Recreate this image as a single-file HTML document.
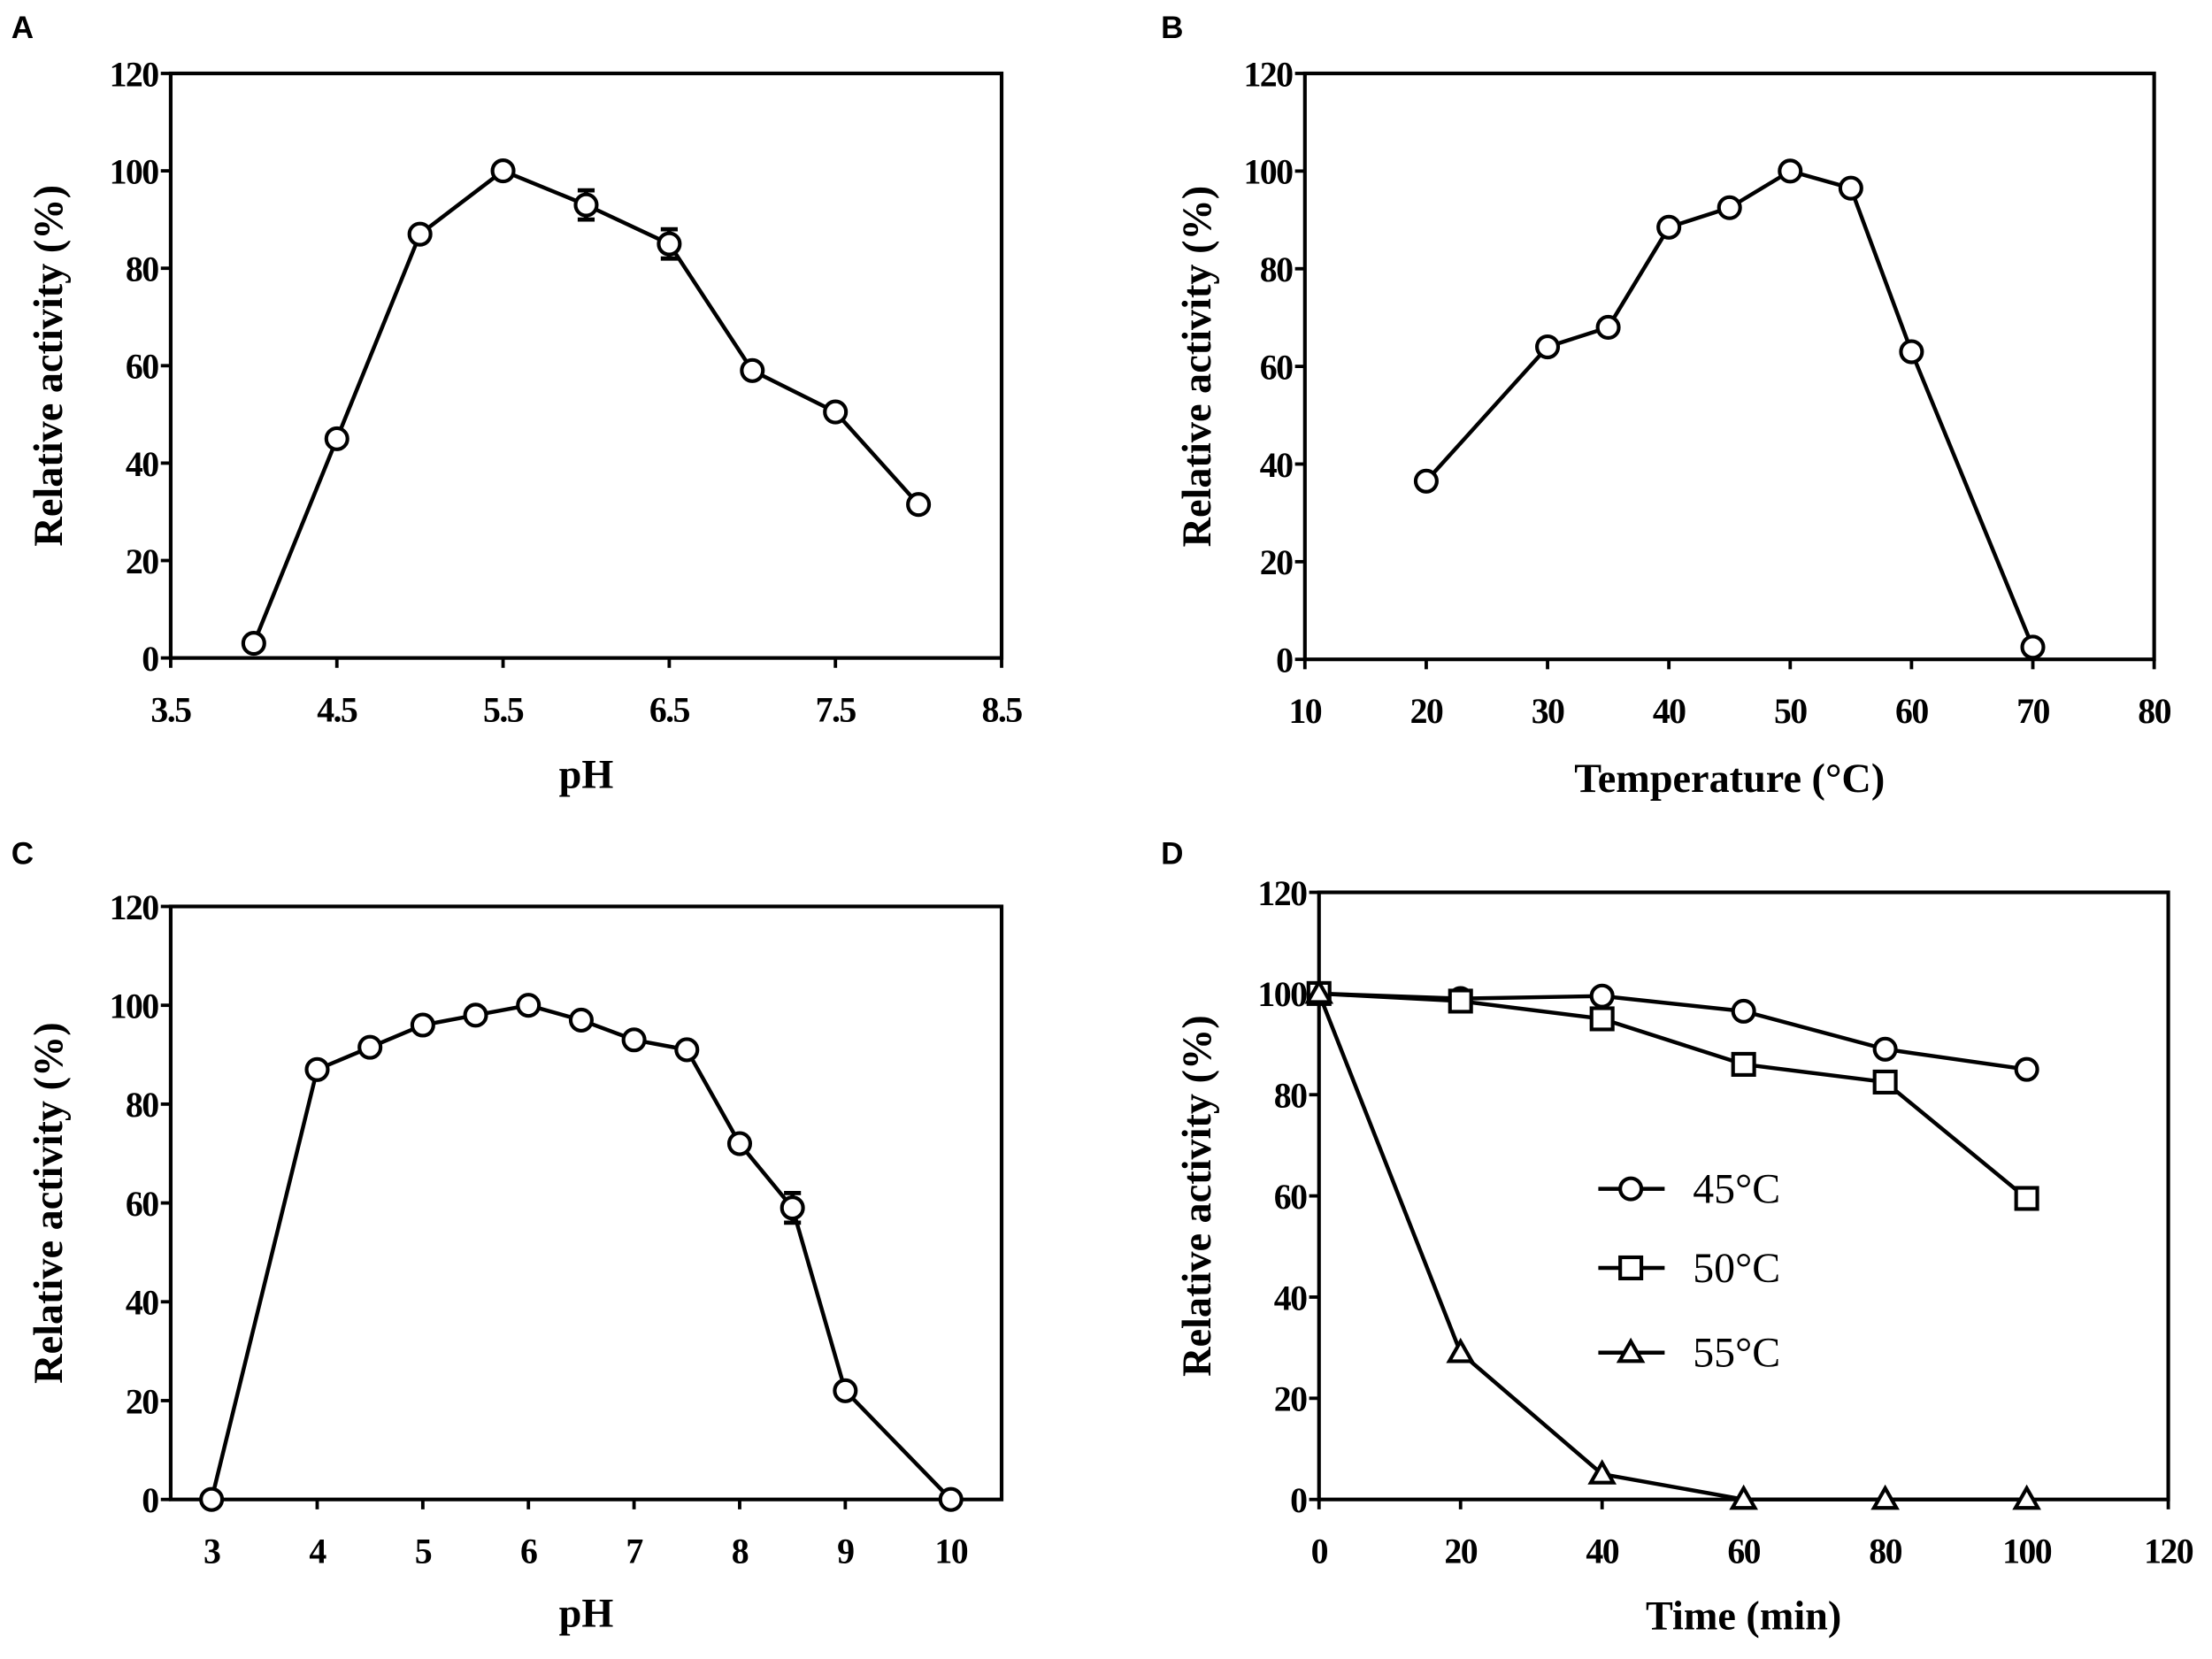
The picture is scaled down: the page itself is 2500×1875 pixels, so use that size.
<!DOCTYPE html>
<html><head><meta charset="utf-8"><style>html,body{margin:0;padding:0;background:#fff}svg{display:block}</style></head>
<body>
<svg id="fig" width="2500" height="1875" viewBox="0 0 1568 1175" preserveAspectRatio="none" xmlns="http://www.w3.org/2000/svg"></svg>
<script>
// Panel A: pH optimum
const aX = [4, 4.5, 5, 5.5, 6, 6.5, 7, 7.5, 8];
const aY = [3, 45, 87, 100, 93, 85, 59, 50.5, 31.5];
const aErr = [0, 0, 0, 0, 3, 3, 0, 0, 0];
const aXTicks = [3.5, 4.5, 5.5, 6.5, 7.5, 8.5];
// Panel B: temperature optimum
const bX = [20, 30, 35, 40, 45, 50, 55, 60, 70];
const bY = [36.5, 64, 68, 88.5, 92.5, 100, 96.5, 63, 2.5];
const bXTicks = [10, 20, 30, 40, 50, 60, 70, 80];
// Panel C: pH stability
const cX = [3, 4, 4.5, 5, 5.5, 6, 6.5, 7, 7.5, 8, 8.5, 9, 10];
const cY = [0, 87, 91.5, 96, 98, 100, 97, 93, 91, 72, 59, 22, 0];
const cErr = [0, 0, 0, 0, 0, 0, 0, 0, 0, 0, 3, 0, 0];
const cXTicks = [3, 4, 5, 6, 7, 8, 9, 10];
// Panel D: thermostability
const dX = [0, 20, 40, 60, 80, 100];
const d45 = [100, 99, 99.5, 96.5, 89, 85];
const d50 = [100, 98.5, 95, 86, 82.5, 59.5];
const d55 = [100, 29, 5, 0, 0, 0];
const dXTicks = [0, 20, 40, 60, 80, 100, 120];
const yTicks = [0, 20, 40, 60, 80, 100, 120];

const NS = 'http://www.w3.org/2000/svg';
const svg = document.getElementById('fig');
function el(tag, attrs, parent, text) {
  const e = document.createElementNS(NS, tag);
  for (const k in attrs) e.setAttribute(k, attrs[k]);
  if (text !== undefined) e.textContent = text;
  (parent || svg).appendChild(e);
  return e;
}
function marker(g, type, x, y) {
  let m;
  if (type === 'circle') m = el('circle', {cx: x, cy: y, r: 7.5, fill: '#fff', stroke: '#000', 'stroke-width': 2.6}, g);
  else if (type === 'square') m = el('rect', {x: x - 7.5, y: y - 7.5, width: 15, height: 15, fill: '#fff', stroke: '#000', 'stroke-width': 2.6}, g);
  else m = el('path', {d: `M${x},${y - 8} L${x + 8},${y + 6} L${x - 8},${y + 6} Z`, fill: '#fff', stroke: '#000', 'stroke-width': 2.6}, g);
  
  
  return m;
}
function panel(cfg) {
  const g = el('g', {});
  
  
  const {L, R, T, B, x0, x1} = cfg;
  const sx = v => L + (v - x0) / (x1 - x0) * (R - L);
  const sy = v => B - v / 120 * (B - T);
  const lab = el('text', {x: cfg.lx, y: cfg.ly, 'font-family': 'Liberation Sans, sans-serif', 'font-weight': 'bold', 'font-size': 22}, g, cfg.id);
  
  
  const frame = el('rect', {x: L, y: T, width: R - L, height: B - T, fill: 'none', stroke: '#000', 'stroke-width': 2.6}, g);
  
  
  yTicks.forEach(v => {
    el('line', {x1: L - 7, x2: L, y1: sy(v), y2: sy(v), stroke: '#000', 'stroke-width': 2.4}, g);
    const t = el('text', {x: L - 9, y: sy(v) + 9, 'text-anchor': 'end', 'font-family': 'Liberation Serif, serif', 'font-weight': 'bold', 'font-size': 25, 'letter-spacing': -1}, g, String(v));
    
    
  });
  cfg.xt.forEach(v => {
    el('line', {x1: sx(v), x2: sx(v), y1: B, y2: B + 7, stroke: '#000', 'stroke-width': 2.4}, g);
    const t = el('text', {x: sx(v), y: B + 45, 'text-anchor': 'middle', 'font-family': 'Liberation Serif, serif', 'font-weight': 'bold', 'font-size': 25, 'letter-spacing': -1}, g, String(v));
    
    
  });
  const xt = el('text', {x: (L + R) / 2, y: cfg.xly, 'text-anchor': 'middle', 'font-family': 'Liberation Serif, serif', 'font-weight': 'bold', 'font-size': 29}, g, cfg.xlabel);
  
  
  const yx = cfg.ylx, yy = (T + B) / 2;
  const yt = el('text', {x: yx, y: yy, 'text-anchor': 'middle', transform: `rotate(-90 ${yx} ${yy})`, 'font-family': 'Liberation Serif, serif', 'font-weight': 'bold', 'font-size': 29}, g, 'Relative activity (%)');
  
  
  cfg.series.forEach(s => {
    const pts = s.x.map((v, i) => sx(v) + ',' + sy(s.y[i])).join(' ');
    const line = el('polyline', {points: pts, fill: 'none', stroke: '#000', 'stroke-width': 2.8, 'stroke-linejoin': 'round'}, g);
    
    
    if (s.err) s.x.forEach((v, i) => {
      if (!s.err[i]) return;
      const x = sx(v), y1 = sy(s.y[i] + s.err[i]), y2 = sy(s.y[i] - s.err[i]);
      el('path', {d: `M${x},${y1} V${y2} M${x - 6},${y1} H${x + 6} M${x - 6},${y2} H${x + 6}`, stroke: '#000', 'stroke-width': 3}, g);
    });
    s.x.forEach((v, i) => marker(g, s.m, sx(v), sy(s.y[i])));
  });
  return {g, sx, sy};
}
panel({id: 'A', lx: 8, ly: 27, L: 121, R: 710, T: 52, B: 466, x0: 3.5, x1: 8.5, xt: aXTicks, xlabel: 'pH', xly: 558, ylx: 44,
  series: [{name: 'ph-optimum', x: aX, y: aY, err: aErr, m: 'circle'}]});
panel({id: 'B', lx: 823, ly: 27, L: 925, R: 1527, T: 52, B: 467, x0: 10, x1: 80, xt: bXTicks, xlabel: 'Temperature (°C)', xly: 561, ylx: 858,
  series: [{name: 'temp-optimum', x: bX, y: bY, m: 'circle'}]});
panel({id: 'C', lx: 8, ly: 612, L: 121, R: 710, T: 642, B: 1062, x0: 2.613, x1: 10.48, xt: cXTicks, xlabel: 'pH', xly: 1152, ylx: 44,
  series: [{name: 'ph-stability', x: cX, y: cY, err: cErr, m: 'circle'}]});
panel({id: 'D', lx: 823, ly: 612, L: 935, R: 1537, T: 632, B: 1062, x0: 0, x1: 120, xt: dXTicks, xlabel: 'Time (min)', xly: 1154, ylx: 858,
  series: [{name: '45C', x: dX, y: d45, m: 'circle'}, {name: '50C', x: dX, y: d50, m: 'square'}, {name: '55C', x: dX, y: d55, m: 'triangle'}]});
// legend
const legItems = [['circle', '45°C', 842], ['square', '50°C', 898], ['triangle', '55°C', 958]];
const leg = el('g', {});


legItems.forEach(([m, txt, y]) => {
  const e = el('g', {}, leg);
  
  
  el('line', {x1: 1133, x2: 1180, y1: y, y2: y, stroke: '#000', 'stroke-width': 2.8}, e);
  marker(e, m, 1156, y);
  el('text', {x: 1200, y: y + 10, 'font-family': 'Liberation Serif, serif', 'font-size': 30}, e, txt);
});
</script>
</body></html>
